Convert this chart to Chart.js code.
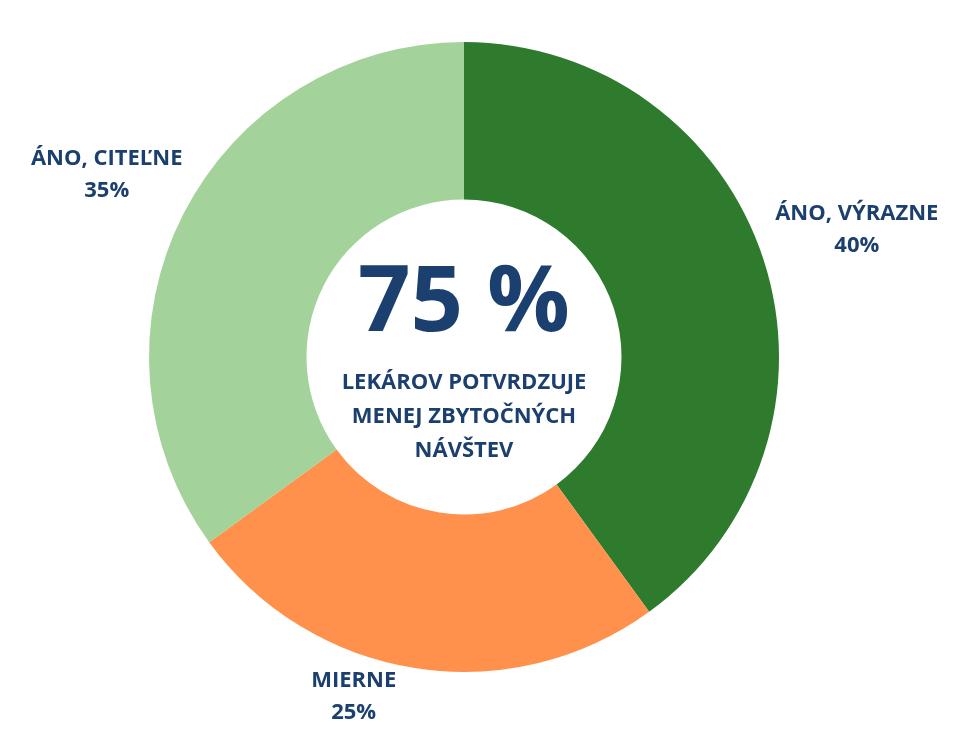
<!DOCTYPE html>
<html><head><meta charset="utf-8">
<script src="https://cdn.jsdelivr.net/npm/chart.js@4/dist/chart.umd.min.js"></script>
<style>html,body{margin:0;padding:0;background:#fff}</style>
</head><body>
<canvas id="c" width="960" height="751"></canvas>
<script>
const categories = ["ÁNO, VÝRAZNE", "MIERNE", "ÁNO, CITEĽNE"];
const values = [40, 25, 35];
const colors = ["#2e7b2e", "#ff914d", "#a3d39b"];
const centerBig = "75 %";
const centerLines = ["LEKÁROV POTVRDZUJE", "MENEJ ZBYTOČNÝCH", "NÁVŠTEV"];
const navy = "#1b3f6e";

const labelPlugin = {
  id: 'labels',
  afterDraw(chart) {
    const ctx = chart.ctx;
    const meta = chart.getDatasetMeta(0);
    const total = values.reduce((a, b) => a + b, 0);
    // placement tweaks: [radius, angle shift in degrees]
    const place = [[413, 0], [357, 9], [401, 0]];
    ctx.save();
    ctx.fillStyle = navy;
    ctx.textAlign = 'center';
    ctx.textBaseline = 'middle';
    ctx.font = 'bold 22px "Open Sans"';
    meta.data.forEach((arc, i) => {
      const mid = (arc.startAngle + arc.endAngle) / 2 + place[i][1] * Math.PI / 180;
      const x = arc.x + Math.cos(mid) * place[i][0];
      const y = arc.y + Math.sin(mid) * place[i][0];
      ctx.fillText(categories[i], x, y - 16);
      ctx.fillText(Math.round(values[i] / total * 100) + '%', x, y + 16);
    });
    const a = meta.data[0];
    ctx.font = 'bold 92px "Open Sans"';
    ctx.fillText(centerBig, a.x, a.y - 52);
    ctx.font = 'bold 22px "Open Sans"';
    centerLines.forEach((l, i) => ctx.fillText(l, a.x, a.y + 26 + i * 34));
    ctx.restore();
  }
};

new Chart(document.getElementById('c'), {
  type: 'doughnut',
  data: { labels: categories, datasets: [{ data: values, backgroundColor: colors, borderWidth: 0 }] },
  options: {
    responsive: false, animation: false, cutout: '50%',
    layout: { padding: { top: 42, bottom: 79, left: 149, right: 181 } },
    plugins: { legend: { display: false }, tooltip: { enabled: false } }
  },
  plugins: [labelPlugin]
});
</script>
</body></html>
